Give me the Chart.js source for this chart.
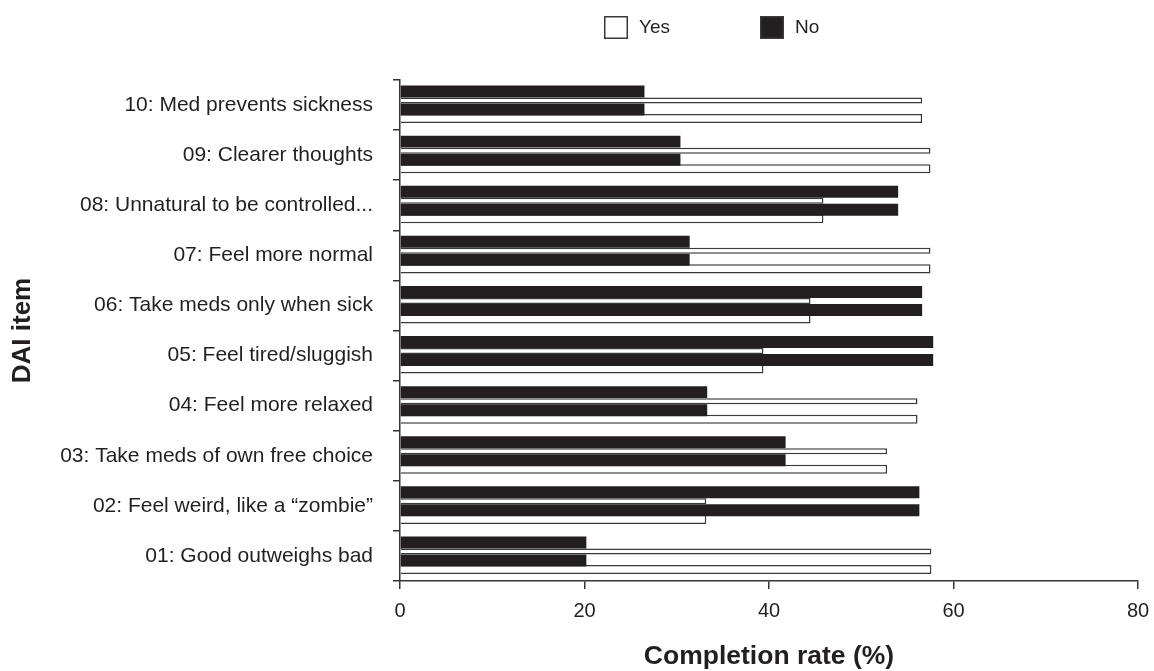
<!DOCTYPE html>
<html>
<head>
<meta charset="utf-8">
<script src="https://cdn.jsdelivr.net/npm/chart.js@4"></script>
<style>
  html, body { margin: 0; padding: 0; background: #fff; }
  #wrap { width: 1154px; height: 671px; }
</style>
</head>
<body>
<div id="wrap"><canvas id="myChart" width="1154" height="671"></canvas></div>
<script>
// DAI items, top to bottom as in the figure
var items = [
  "10: Med prevents sickness",
  "09: Clearer thoughts",
  "08: Unnatural to be controlled...",
  "07: Feel more normal",
  "06: Take meds only when sick",
  "05: Feel tired/sluggish",
  "04: Feel more relaxed",
  "03: Take meds of own free choice",
  "02: Feel weird, like a \u201czombie\u201d",
  "01: Good outweighs bad"
];

// completion rate (%)
var yesRates = [56.6, 57.5, 45.9, 57.5, 44.5, 39.4, 56.1, 52.8, 33.2, 57.6];
var noRates  = [26.5, 30.4, 54.0, 31.4, 56.6, 57.8, 33.3, 41.8, 56.3, 20.2];

var xTicks = [0, 20, 40, 60, 80];

var INK = "#231f20";
var FONT = "'Liberation Sans', Arial, Helvetica, sans-serif";

// legend drawn by hand so it can sit where the original one is
var legendPlugin = {
  id: "topLegend",
  afterDraw: function(chart) {
    var ctx = chart.ctx;
    var entries = [
      { label: chart.data.datasets[1].label, fill: "#ffffff", x: 604 },
      { label: chart.data.datasets[0].label, fill: INK, x: 760 }
    ];
    ctx.save();
    ctx.font = "19px " + FONT;
    ctx.textBaseline = "middle";
    ctx.textAlign = "left";
    for (var i = 0; i < entries.length; i++) {
      var e = entries[i];
      ctx.fillStyle = e.fill;
      ctx.fillRect(e.x, 16, 24, 23);
      ctx.strokeStyle = "#3a3a3a";
      ctx.lineWidth = 1.5;
      ctx.strokeRect(e.x + 0.75, 16.75, 22.5, 21.5);
      ctx.fillStyle = INK;
      ctx.fillText(e.label, e.x + 35, 28);
    }
    ctx.restore();
  }
};

var ctx = document.getElementById("myChart").getContext("2d");

var myChart = new Chart(ctx, {
  type: "bar",
  data: {
    labels: items,
    datasets: [
      {
        label: "No",
        data: noRates,
        backgroundColor: INK,
        borderWidth: 0,
        barPercentage: 1.33
      },
      {
        label: "Yes",
        data: yesRates,
        backgroundColor: "#ffffff",
        borderColor: "#3a3a3a",
        borderWidth: 1.5,
        barPercentage: 0.667
      },
      {
        label: "No",
        data: noRates,
        backgroundColor: INK,
        borderWidth: 0,
        barPercentage: 1.33
      },
      {
        label: "Yes",
        data: yesRates,
        backgroundColor: "#ffffff",
        borderColor: "#3a3a3a",
        borderWidth: 1.5,
        barPercentage: 1.0
      }
    ]
  },
  options: {
    indexAxis: "y",
    responsive: false,
    animation: false,
    layout: {
      padding: { top: 80, right: 16, bottom: 0, left: 0 }
    },
    datasets: {
      bar: { categoryPercentage: 0.72 }
    },
    plugins: {
      legend: { display: false },
      tooltip: { enabled: false }
    },
    scales: {
      x: {
        type: "linear",
        min: 0,
        max: 80,
        afterBuildTicks: function(scale) {
          scale.ticks = xTicks.map(function(v) { return { value: v }; });
        },
        grid: {
          drawOnChartArea: false,
          tickLength: 8,
          color: "#333",
          lineWidth: 1.5
        },
        border: { color: "#333", width: 1.5 },
        ticks: {
          color: INK,
          padding: 10,
          font: { family: FONT, size: 20 }
        },
        title: {
          display: true,
          text: "Completion rate (%)",
          color: INK,
          padding: { top: 0, bottom: 1 },
          font: { family: FONT, size: 26.5, weight: "bold", lineHeight: 1 }
        },
        afterFit: function(scale) {
          scale.height = 90;
          scale.paddingRight = 0;
          scale.paddingLeft = 0;
        }
      },
      y: {
        type: "category",
        grid: {
          offset: true,
          drawOnChartArea: false,
          tickLength: 7,
          color: "#333",
          lineWidth: 1.5
        },
        border: { color: "#333", width: 1.5 },
        ticks: {
          color: INK,
          padding: 20,
          font: { family: FONT, size: 21 }
        },
        title: {
          display: true,
          text: "DAI item",
          color: INK,
          padding: { top: 10, bottom: 0 },
          font: { family: FONT, size: 26, weight: "bold", lineHeight: 1 }
        },
        afterFit: function(scale) {
          scale.width = 400;
        }
      }
    }
  },
  plugins: [legendPlugin]
});
</script>
</body>
</html>
